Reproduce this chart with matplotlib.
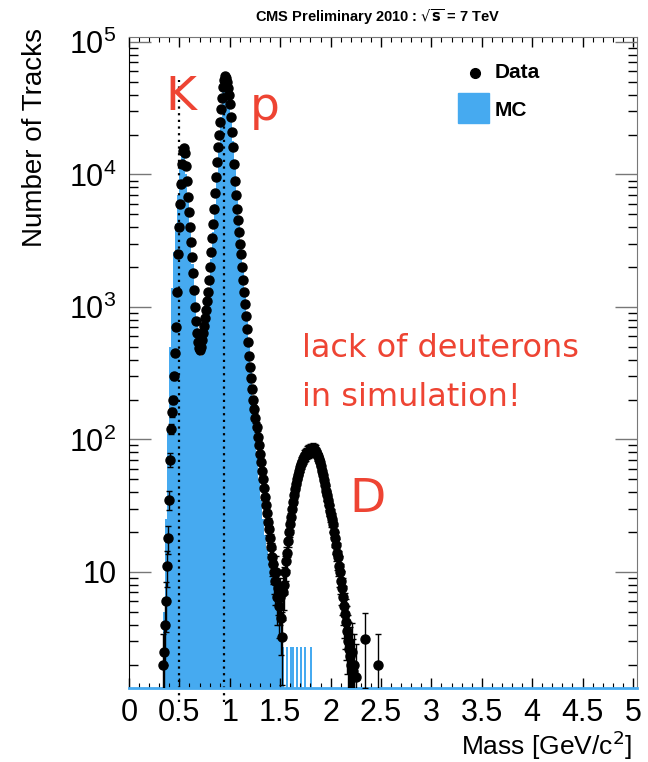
import matplotlib

matplotlib.use("Agg")
import matplotlib.pyplot as plt  # noqa: E402
import numpy as np  # noqa: E402
from matplotlib.patches import Rectangle  # noqa: E402
from matplotlib.ticker import FixedLocator, FuncFormatter, LogLocator, MultipleLocator  # noqa: E402

plt.rcParams["font.family"] = ["Liberation Sans", "DejaVu Sans"]

# --- data: tracks per 0.01 GeV bin, bin centres from 0.335 ---
data_w = 0.01
data_start = 0.335
data_counts = [
    2, 2.5, 4, 6, 11, 18, 35, 70, 120, 160,                       # 0.335 - 0.425
    200, 300, 450, 700, 1300, 2500, 4000, 6000, 8500, 12000,      # 0.435 - 0.525
    15000, 15800, 14500, 11500, 9000, 6800, 5200, 4000, 3100, 2400,  # 0.535 - 0.625
    1800, 1350, 1000, 780, 640, 540, 490, 470, 500, 560,          # 0.635 - 0.725
    640, 720, 820, 950, 1100, 1300, 1600, 2000, 2600, 3300,       # 0.735 - 0.825
    4200, 5500, 7200, 9500, 12500, 16000, 20000, 25000, 31000, 38000,  # 0.835 - 0.925
    46000, 52000, 55000, 53000, 50000, 45000, 40000, 34000, 27000, 21000,  # 0.935 - 1.025
    16000, 12000, 9000, 7000, 5500, 4500, 3700, 3000, 2500, 2000,  # 1.035 - 1.125
    1600, 1300, 1050, 850, 680, 540, 430, 350, 290, 240,          # 1.135 - 1.225
    200, 170, 145, 125, 105, 90, 78, 67, 58, 50,                  # 1.235 - 1.325
    43, 37, 32, 28, 24, 21, 18, 15.5, 13, 11.5,                   # 1.335 - 1.425
    10, 8.5, 10, 6.5, 7.5, 5.5, 6.5, 4.5, 3.2, 7,                 # 1.435 - 1.525
    8, 10, 12, 14, 17, 20, 23, 26, 30, 34,                        # 1.535 - 1.625
    38, 42, 46, 50, 54, 58, 62, 65, 68, 71,                       # 1.635 - 1.725
    74, 76, 78, 80, 81, 82, 83, 84, 84, 85,                       # 1.735 - 1.825
    84, 83, 81, 78, 75, 71, 67, 63, 58, 54,                       # 1.835 - 1.925
    49, 45, 41, 38, 35, 32, 29, 27, 25, 23,                       # 1.935 - 2.025
    20, 18, 16, 14, 13, 11, 10, 8.5, 7.5, 6.5,                    # 2.035 - 2.125
    5.5, 4.8, 4.2, 3.6, 3, 2.6, 2.3, 2, 2.5, 1.8,                 # 2.135 - 2.225
    2, 0, 1.6, 0, 0, 0, 0, 0, 0, 0,                               # 2.235 - 2.325
    0, 3.1, 0, 0, 0, 0, 0, 0, 0, 0,                               # 2.335 - 2.425
    0, 0, 0, 0, 2,                                                # 2.435 - 2.475
]

# --- simulation: tracks per 0.02 GeV bin, bin centres from 0.33 ---
mc_w = 0.02
mc_start = 0.33
mc_counts = [
    0, 5, 25, 120, 500, 1400, 2600, 4200, 7000, 11000,            # 0.33 - 0.51
    14500, 14000, 10000, 6200, 3700, 2100, 1250, 750, 480, 430,   # 0.53 - 0.71
    520, 700, 950, 1400, 2300, 3700, 6000, 10000, 17000, 27000,   # 0.73 - 0.91
    42000, 57000, 52000, 40000, 28000, 18000, 11000, 7000, 4500, 3000,  # 0.93 - 1.11
    2000, 1300, 850, 550, 350, 200, 120, 75, 50, 35,              # 1.13 - 1.31
    25, 19, 15, 12, 10, 8.5, 7.5, 6.5, 6, 5.5,                    # 1.33 - 1.51
    2.7, 0, 2.7, 0, 2.7, 2.7, 0, 2.7, 0, 2.7,                     # 1.53 - 1.71
    0, 2.7, 0, 0, 2.7, 0, 0, 0, 0, 0,                             # 1.73 - 1.91
    0, 0, 0, 0, 0, 0, 0, 0, 0, 0,                                 # 1.93 - 2.11
    0, 0, 0, 1.8, 1.8,                                            # 2.13 - 2.21
]

mass_lines = [0.494, 0.938]  # K and p masses, dotted markers
y_ticks = [10, 1e2, 1e3, 1e4, 1e5]

BLUE = "#46AAF0"
RED = "#EE4433"
W, H = 648, 762

data_mass = data_start + data_w * np.arange(len(data_counts))
data_counts = np.array(data_counts, dtype=float)
mc_mass = mc_start + mc_w * np.arange(len(mc_counts))
mc_counts = np.array(mc_counts, dtype=float)

fig = plt.figure(figsize=(W / 100, H / 100), dpi=100)
ax = fig.add_axes([129 / W, 1 - 688 / H, (637 - 129) / W, (688 - 37) / H])
ax.set_yscale("log")
ax.set_xlim(0, 5.04)
ax.set_ylim(1.33, 1.09e5)

# MC histogram (filled)
floor = 1e-3
edges = np.append(mc_mass - mc_w / 2, mc_mass[-1] + mc_w / 2)
ax.stairs(np.where(mc_counts > 0, mc_counts, floor), edges, fill=True,
          baseline=floor, color=BLUE, zorder=1)

# dotted K / p mass lines
for m in mass_lines:
    ax.plot([m, m], [1.04, 5.2e4], ls=(0, (1, 2)), color="black", lw=1.6,
            clip_on=False, zorder=2)

# data points with sqrt(N) errors
sel = data_counts > 0
ax.errorbar(data_mass[sel], data_counts[sel], yerr=np.sqrt(data_counts[sel]),
            fmt="o", ms=6.5, color="black", ecolor="black", elinewidth=1,
            capsize=2, capthick=1, zorder=3)

# axes styling (ROOT look)
ax.xaxis.set_major_locator(MultipleLocator(0.5))
ax.xaxis.set_minor_locator(MultipleLocator(0.1))
ax.xaxis.set_major_formatter(FuncFormatter(lambda v, _: f"{v:g}"))
ax.yaxis.set_major_locator(FixedLocator(y_ticks))
ax.yaxis.set_minor_locator(LogLocator(base=10, subs=range(2, 10)))
ax.yaxis.set_major_formatter(FuncFormatter(
    lambda v, _: "10" if v == 10 else rf"$\mathregular{{10^{{{int(round(np.log10(v)))}}}}}$"))
ax.tick_params(which="both", direction="in", top=True, right=True, colors="black")
ax.tick_params(axis="x", which="major", length=7, width=1, labelsize=22, pad=7)
ax.tick_params(axis="x", which="minor", length=3.5, width=0.8)
ax.tick_params(axis="y", which="major", length=16, width=1, labelsize=22, pad=9,
               color="#777777")
ax.tick_params(axis="y", which="minor", length=6.5, width=1)
for side in ("top", "right"):
    ax.spines[side].set_color("#777777")
ax.spines["left"].set_color("black")
ax.spines["bottom"].set_color(BLUE)
ax.spines["bottom"].set_linewidth(2)

# labels
fig.text(378 / W, 1 - 17 / H, r"CMS Preliminary 2010 : $\sqrt{\mathbf{s}}$ = 7 TeV",
         ha="center", va="center", fontsize=10.5, weight="bold")
fig.text(35 / W, 1 - 28 / H, "Number of Tracks", rotation=90, ha="center",
         va="top", fontsize=20)
fig.text(632 / W, 1 - 745 / H, r"Mass [GeV/c$^2$]", ha="right", va="center",
         fontsize=19)

# legend drawn by hand
fig.lines.append(plt.Line2D([475 / W], [1 - 73 / H], marker="o", ms=7,
                            color="black", transform=fig.transFigure))
fig.patches.append(Rectangle((458 / W, 1 - 123 / H), 31 / W, 30 / H,
                             color=BLUE, transform=fig.transFigure))
fig.text(495 / W, 1 - 73 / H, "Data", ha="left", va="center", fontsize=15,
         weight="bold")
fig.text(495 / W, 1 - 110 / H, "MC", ha="left", va="center", fontsize=15,
         weight="bold")

# red annotations
note = dict(color=RED, family="DejaVu Sans")
fig.text(181 / W, 1 - 97 / H, "K", ha="center", va="center", fontsize=34, **note)
fig.text(265 / W, 1 - 108 / H, "p", ha="center", va="center", fontsize=34, **note)
fig.text(368 / W, 1 - 499 / H, "D", ha="center", va="center", fontsize=34, **note)
fig.text(302 / W, 1 - 348 / H, "lack of deuterons", ha="left", va="center",
         fontsize=23, **note)
fig.text(302 / W, 1 - 398 / H, "in simulation!", ha="left", va="center",
         fontsize=23, **note)

fig.savefig("out.png", dpi=100)
